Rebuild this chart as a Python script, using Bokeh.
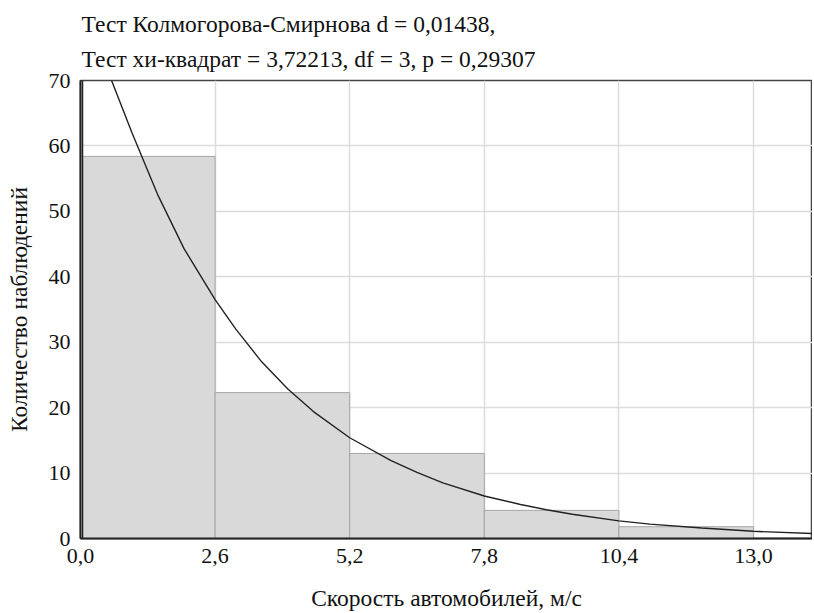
from bokeh.plotting import figure
from bokeh.models import ColumnDataSource, FixedTicker, Range1d
from bokeh.embed import file_html
from bokeh.resources import INLINE

# histogram bins (speed, m/s) and counts
bin_left = [0.0, 2.6, 5.2, 7.8, 10.4]
bin_right = [2.6, 5.2, 7.8, 10.4, 13.0]
counts = [58.4, 22.3, 13.0, 4.3, 1.8]

# fitted curve
curve_x = [0.04, 0.04, 0.6, 1.0, 1.5, 2.0, 2.6, 3.0, 3.5, 4.0, 4.5, 5.2, 6.0, 6.5,
           7.0, 7.8, 8.5, 9.0, 9.5, 10.4, 11.0, 12.0, 13.0, 14.2]
curve_y = [0.0, 86.0, 70.0, 61.9, 52.4, 44.3, 36.5, 32.0, 27.0, 22.9, 19.4, 15.4,
           11.9, 10.1, 8.5, 6.5, 5.2, 4.4, 3.7, 2.7, 2.2, 1.6, 1.1, 0.75]

x_ticks = [0.0, 2.6, 5.2, 7.8, 10.4, 13.0]
x_tick_labels = ["0,0", "2,6", "5,2", "7,8", "10,4", "13,0"]
y_ticks = [0, 10, 20, 30, 40, 50, 60, 70]

title1 = "Тест Колмогорова-Смирнова d = 0,01438,"
title2 = "Тест хи-квадрат = 3,72213, df = 3, p = 0,29307"
xlabel = "Скорость автомобилей, м/с"
ylabel = "Количество наблюдений"

FONT = "Liberation Serif"
FS_TICK = "22px"
FS_TEXT = "23.5px"

p = figure(width=812, height=613, output_backend="svg", toolbar_location=None,
           x_range=Range1d(0, 14.14), y_range=Range1d(0, 70),
           min_border_left=80, min_border_right=0, min_border_top=80, min_border_bottom=0)

p.title.text = title1 + "\n" + title2
p.title.text_font = FONT
p.title.text_font_size = FS_TEXT
p.title.text_font_style = "normal"
p.title.text_color = "#111111"
p.title.text_line_height = 1.33
p.title.align = "left"
p.title.offset = 1
p.title.standoff = 17

src = ColumnDataSource(dict(left=bin_left, right=bin_right, top=counts))
p.quad(left="left", right="right", bottom=0, top="top", source=src,
       fill_color="#d9d9d9", line_color="#a6a6a6", line_width=1)
p.line(curve_x, curve_y, line_color="#222222", line_width=1.4)

p.xaxis.ticker = FixedTicker(ticks=x_ticks)
p.xaxis.major_label_overrides = {t: l for t, l in zip(x_ticks, x_tick_labels)}
p.yaxis.ticker = FixedTicker(ticks=y_ticks)

for ax in (p.xaxis[0], p.yaxis[0]):
    ax.major_label_text_font = FONT
    ax.major_label_text_font_size = FS_TICK
    ax.major_label_text_color = "#111111"
    ax.axis_label_text_font = FONT
    ax.axis_label_text_font_size = FS_TEXT
    ax.axis_label_text_font_style = "normal"
    ax.axis_label_text_color = "#111111"
    ax.axis_line_color = "#222222"
    ax.axis_line_width = 2
    ax.major_tick_line_color = None
    ax.minor_tick_line_color = None
    ax.major_label_standoff = 4

p.xaxis.axis_label = xlabel
p.yaxis.axis_label = ylabel
p.xaxis.axis_label_standoff = 19
p.yaxis.axis_label_standoff = 14

p.xgrid.grid_line_color = "#dcdcdc"
p.ygrid.grid_line_color = "#dcdcdc"
p.xgrid.grid_line_width = 1.5
p.ygrid.grid_line_width = 1.5

p.outline_line_color = "#444444"
p.outline_line_width = 1.5
p.background_fill_color = "white"
p.border_fill_color = "white"

open("out.html", "w").write(file_html(p, INLINE))
